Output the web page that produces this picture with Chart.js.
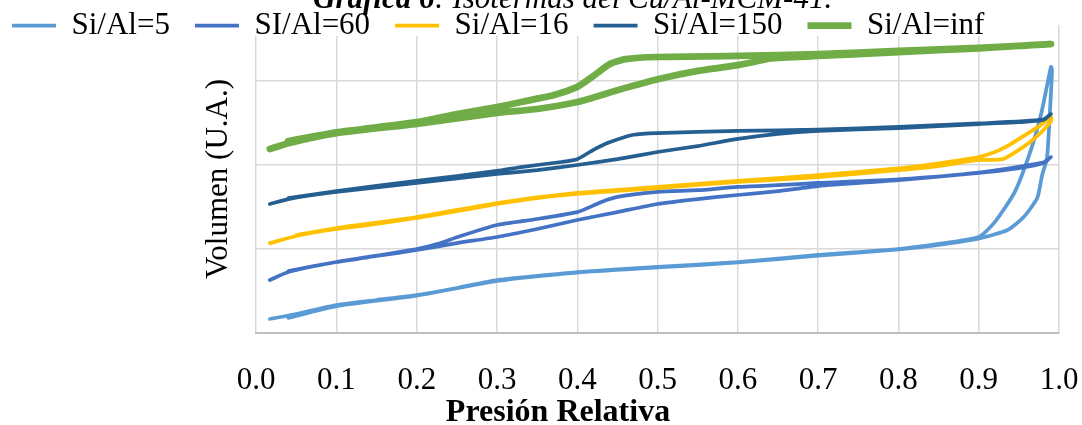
<!DOCTYPE html>
<html>
<head>
<meta charset="utf-8">
<script src="https://cdn.jsdelivr.net/npm/chart.js@4/dist/chart.umd.min.js"></script>
<style>
  html, body { margin: 0; padding: 0; background: #fff; }
</style>
</head>
<body>
<canvas id="isoChart" width="1082" height="425"></canvas>
<script>
// Isotermas: cada serie = rama de adsorción seguida de la rama de desorción
const seriesNames = ["Si/Al=5", "SI/Al=60", "Si/Al=16", "Si/Al=150", "Si/Al=inf"];
const xTicks = [0.0, 0.1, 0.2, 0.3, 0.4, 0.5, 0.6, 0.7, 0.8, 0.9, 1.0];

const p5 = [0.017, 0.05, 0.1, 0.15, 0.2, 0.25, 0.3, 0.35, 0.4, 0.5, 0.6, 0.7, 0.8, 0.85, 0.9, 0.92, 0.945, 0.965, 0.978, 0.99,
            0.9913, 0.9888, 0.985, 0.979, 0.973, 0.956, 0.936, 0.902, 0.85, 0.8, 0.7, 0.6, 0.5, 0.4, 0.3, 0.2, 0.1, 0.04];
const v5 = [16.7, 22.6, 33.3, 39.3, 45.2, 53.6, 63, 67.9, 72.6, 78.6, 84.5, 92.9, 100, 106, 114.3, 132, 168, 218, 262, 316.7,
            313, 265, 208, 188, 161, 138, 122.6, 113, 105, 99.5, 92, 84, 78, 72, 62, 44.5, 32, 18];

const p60 = [0.017, 0.04, 0.1, 0.15, 0.2, 0.25, 0.3, 0.35, 0.4, 0.45, 0.5, 0.55, 0.6, 0.65, 0.7, 0.8, 0.9, 0.95, 0.98, 0.99,
             0.98, 0.9, 0.8, 0.7, 0.65, 0.6, 0.55, 0.5, 0.45, 0.43, 0.41, 0.4, 0.35, 0.3, 0.25, 0.23, 0.2, 0.1, 0.04];
const v60 = [63, 72.6, 84.5, 91.7, 98.8, 107, 114.3, 123.8, 134.5, 144, 153.6, 159.5, 164.3, 169, 175, 182, 190.5, 196.4, 202, 209.5,
             203, 191, 183, 178.6, 176, 174, 170, 168, 162, 156, 147.6, 144, 135.7, 128.6, 114, 107, 100, 84.5, 73.8];

const p16 = [0.017, 0.05, 0.1, 0.15, 0.2, 0.25, 0.3, 0.35, 0.4, 0.5, 0.6, 0.7, 0.8, 0.85, 0.9, 0.93, 0.95, 0.97, 0.99,
             0.99, 0.975, 0.96, 0.94, 0.92, 0.9, 0.85, 0.8, 0.7, 0.6, 0.5, 0.4, 0.3, 0.2, 0.1, 0.05];
const v16 = [107, 115.5, 123.8, 129.8, 137, 145, 153.6, 160.7, 165.5, 172.6, 179.8, 185.7, 194, 198.8, 206, 207, 218, 232, 252,
             257, 246, 237, 225, 215.5, 209.5, 202, 196, 188, 181, 174, 166.7, 154.8, 138, 125, 116.7];

const p150 = [0.017, 0.04, 0.1, 0.2, 0.3, 0.35, 0.4, 0.45, 0.5, 0.55, 0.6, 0.65, 0.7, 0.8, 0.9, 0.95, 0.98, 0.99,
              0.98, 0.9, 0.8, 0.7, 0.6, 0.5, 0.47, 0.44, 0.42, 0.4, 0.38, 0.33, 0.3, 0.2, 0.1, 0.04];
const v150 = [153.6, 159.5, 167.9, 178.6, 189.3, 194, 200, 207, 215.5, 222.6, 231, 237, 240.5, 244, 248.8, 251, 253.6, 260.7,
              254, 249.5, 245.5, 242, 240.5, 238, 236, 227, 218, 207, 203.6, 197.6, 192.9, 181, 169, 160.7];

const pInf = [0.017, 0.04, 0.1, 0.2, 0.3, 0.35, 0.4, 0.45, 0.5, 0.55, 0.6, 0.62, 0.64, 0.7, 0.8, 0.9, 0.95, 0.99,
              0.95, 0.9, 0.8, 0.7, 0.6, 0.5, 0.46, 0.44, 0.42, 0.4, 0.37, 0.35, 0.33, 0.3, 0.25, 0.2, 0.1, 0.04];
const vInf = [219, 226, 238, 249, 262, 266.7, 275, 289, 302, 312, 319, 322.6, 327, 329.8, 334.5, 339, 341.7, 344,
              342, 339.5, 336, 332, 329.8, 328.6, 326, 320, 306, 293, 283, 279, 275, 269, 260.7, 251, 239, 228.6];

const pressures = [p5, p60, p16, p150, pInf];
const volumes = [v5, v60, v16, v150, vInf];
const colors = ["#5B9BD5", "#4472C4", "#FFC000", "#255E91", "#70AD47"];
const widths = [3.75, 3.75, 3.75, 3.75, 6.75];

const serif = '"Liberation Serif", "Times New Roman", serif';
Chart.defaults.font.family = serif;
Chart.defaults.color = '#000';

const datasets = seriesNames.map((name, i) => ({
  label: name,
  data: pressures[i].map((p, k) => ({x: p, y: volumes[i][k]})),
  borderColor: colors[i],
  backgroundColor: colors[i],
  borderWidth: widths[i],
  borderCapStyle: 'round',
  borderJoinStyle: 'round',
  pointRadius: 0,
  pointHoverRadius: 0,
  pointStyle: 'line',
  showLine: true,
  tension: 0.2,
  order: seriesNames.length - 1 - i
}));

// título superior (recortado), título del eje x y ajuste de la leyenda
const captions = {
  id: 'captions',
  afterInit(chart) {
    const legend = chart.legend;
    const fit = legend.fit;
    legend.fit = function () {
      fit.call(this);
      this.height = 25;
    };
    // la leyenda de Excel tapa la parte alta de la cuadrícula
    const draw = legend.draw;
    legend.draw = function (area) {
      const pad = this.options.labels.padding;
      const size = this.options.labels.font.size;
      const mid = this.top + pad + size / 2;
      const ctx = this.ctx;
      ctx.save();
      ctx.fillStyle = '#fff';
      ctx.fillRect(this.left + pad - 4, 0, this.lineWidths[0] - pad + 4, mid + size / 3);
      ctx.restore();
      draw.call(this, area);
    };
  },
  afterLayout(chart) {
    const legend = chart.legend;
    legend.left = -13;
    legend.top = -15;
    legend.right = chart.width;
    legend.bottom = 70;
  },
  afterDraw(chart) {
    const ctx = chart.ctx;
    ctx.save();
    ctx.fillStyle = '#000';
    ctx.textBaseline = 'alphabetic';
    ctx.textAlign = 'left';
    ctx.font = 'italic bold 31px ' + serif;
    const lead = 'Gráfica 6';
    ctx.fillText(lead, 313, 8);
    const w = ctx.measureText(lead).width;
    ctx.font = 'italic 31px ' + serif;
    ctx.fillText(': Isotermas del Cu/Al-MCM-41.', 313 + w, 8);
    ctx.font = 'bold 32px ' + serif;
    ctx.textAlign = 'center';
    ctx.fillText('Presión Relativa', 558, 421);
    ctx.restore();
  }
};

new Chart(document.getElementById('isoChart'), {
  type: 'scatter',
  data: {datasets: datasets},
  plugins: [captions],
  options: {
    responsive: false,
    animation: false,
    events: [],
    layout: {padding: {top: 0, right: 23, bottom: 26, left: 0}},
    plugins: {
      tooltip: {enabled: false},
      title: {display: false},
      legend: {
        position: 'top',
        align: 'start',
        labels: {
          usePointStyle: true,
          pointStyleWidth: 44,
          padding: 25,
          color: '#000',
          font: {size: 31},
          sort: (a, b) => a.datasetIndex - b.datasetIndex
        }
      }
    },
    scales: {
      x: {
        type: 'linear',
        min: 0,
        max: 1,
        afterBuildTicks: axis => { axis.ticks = xTicks.map(v => ({value: v})); },
        afterFit: axis => {
          axis.height = 66;
          axis.paddingLeft = 0;
          axis.paddingRight = 0;
        },
        ticks: {
          padding: 29,
          color: '#000',
          font: {size: 31},
          maxRotation: 0,
          autoSkip: false,
          callback: v => Number(v).toFixed(1)
        },
        grid: {color: '#d9d9d9', lineWidth: 1.5, drawTicks: false},
        border: {color: '#bfbfbf', width: 2}
      },
      y: {
        min: 0,
        max: 366.7,
        ticks: {display: false, stepSize: 100, includeBounds: false},
        grid: {color: '#d9d9d9', lineWidth: 1.5, drawTicks: false},
        border: {display: false},
        title: {
          display: true,
          text: 'Volumen (U.A.)',
          color: '#000',
          font: {size: 31},
          padding: {top: 200, bottom: 19}
        }
      }
    }
  }
});
</script>
</body>
</html>
